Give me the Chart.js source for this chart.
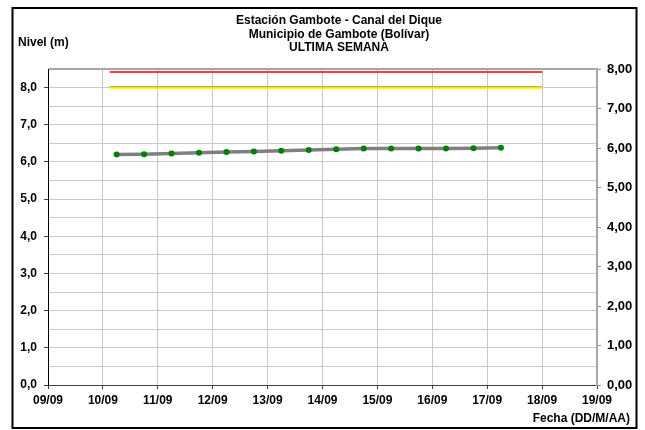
<!DOCTYPE html>
<html>
<head>
<meta charset="utf-8">
<script src="https://cdn.jsdelivr.net/npm/chart.js@4/dist/chart.umd.min.js"></script>
<style>
  html, body { margin: 0; padding: 0; background: #ffffff; }
  #wrap { width: 645px; height: 430px; }
</style>
</head>
<body>
<div id="wrap"><canvas id="c" width="645" height="430"></canvas></div>
<script>
// ---- Data ----
const titleLines = ['Estación Gambote - Canal del Dique', 'Municipio de Gambote (Bolívar)', 'ULTIMA SEMANA'];
const yTitle = 'Nivel (m)';
const xTitle = 'Fecha (DD/M/AA)';
const xTickLabels = ['09/09', '10/09', '11/09', '12/09', '13/09', '14/09', '15/09', '16/09', '17/09', '18/09', '19/09'];
const fechas = ['10/09 06:00', '10/09 18:00', '11/09 06:00', '11/09 18:00', '12/09 06:00', '12/09 18:00',
                '13/09 06:00', '13/09 18:00', '14/09 06:00', '14/09 18:00', '15/09 06:00', '15/09 18:00',
                '16/09 06:00', '16/09 18:00', '17/09 06:00'];
const niveles = [6.20, 6.21, 6.23, 6.25, 6.27, 6.28, 6.30, 6.32, 6.34, 6.36, 6.36, 6.36, 6.36, 6.37, 6.38];
const umbralFechas = ['10/09 03:00', '18/09 00:00'];
const alertaRoja = [8.42, 8.42];
const alertaAmarilla = [7.98, 7.98];
const alertaNaranja = [8.015, 8.015];

// ---- helpers ----
function dayValue(s) {
  const [d, t] = s.split(' ');
  const day = parseInt(d.split('/')[0], 10);
  const [hh, mm] = (t || '00:00').split(':').map(Number);
  return day + (hh + mm / 60) / 24;
}
const pts = (xs, ys) => xs.map((x, i) => ({ x: dayValue(x), y: ys[i] }));
const xMin = parseInt(xTickLabels[0], 10);
const xMax = parseInt(xTickLabels[xTickLabels.length - 1], 10);
const FONT = "'Liberation Sans', Arial, sans-serif";

const decorPlugin = {
  id: 'decor',
  afterDraw(chart) {
    const ctx = chart.ctx;
    ctx.save();
    // outer frame
    ctx.strokeStyle = '#000000';
    ctx.lineWidth = 2;
    ctx.strokeRect(12.5, 8, 624, 420);
    ctx.fillStyle = '#000000';
    ctx.font = 'bold 12px ' + FONT;
    ctx.textBaseline = 'middle';
    ctx.textAlign = 'center';
    const ys = [21, 34.5, 48];
    titleLines.forEach((t, i) => ctx.fillText(t, 339, ys[i]));
    ctx.textAlign = 'left';
    ctx.fillText(yTitle, 18, 43);
    ctx.textAlign = 'right';
    ctx.fillText(xTitle, 630, 419);
    ctx.restore();
  }
};

const isInt = v => Math.abs(v - Math.round(v)) < 1e-6;

new Chart(document.getElementById('c'), {
  type: 'scatter',
  data: {
    datasets: [
      {
        label: 'Alerta roja',
        data: pts(umbralFechas, alertaRoja),
        showLine: true, borderColor: '#ff3b3b', borderWidth: 2, pointRadius: 0, yAxisID: 'y'
      },
      {
        label: 'Alerta amarilla',
        data: pts(umbralFechas, alertaAmarilla),
        showLine: true, borderColor: '#ffff00', borderWidth: 2, pointRadius: 0, yAxisID: 'y'
      },
      {
        label: 'Alerta naranja',
        data: pts(umbralFechas, alertaNaranja),
        showLine: true, borderColor: '#b8893a', borderWidth: 1.5, pointRadius: 0, yAxisID: 'y'
      },
      {
        label: 'Nivel',
        data: pts(fechas, niveles),
        showLine: true, borderColor: '#7f7f7f', borderWidth: 3.5,
        pointRadius: 3, pointBackgroundColor: '#008000', pointBorderColor: '#008000', pointBorderWidth: 0,
        yAxisID: 'y'
      }
    ]
  },
  options: {
    responsive: false,
    animation: false,
    events: [],
    layout: { padding: { top: 69, left: 0, right: 0, bottom: 0 } },
    plugins: { legend: { display: false }, title: { display: false }, tooltip: { enabled: false } },
    scales: {
      x: {
        type: 'linear', position: 'bottom', min: xMin, max: xMax,
        afterFit(s) { s.height = 45; },
        ticks: {
          stepSize: 1, autoSkip: false, maxRotation: 0, padding: 4, color: '#000000',
          font: { family: FONT, size: 12, weight: 'bold' },
          callback: (v) => { const i = Math.round(v - xMin); return xTickLabels[i] !== undefined ? xTickLabels[i] : ''; }
        },
        grid: { color: '#c8c8c8', lineWidth: 1, tickLength: 4, tickColor: '#404040' },
        border: { color: '#404040', width: 1 }
      },
      y: {
        type: 'linear', position: 'left', min: 0, max: 8.5,
        afterFit(s) { s.width = 48; },
        ticks: {
          stepSize: 0.5, autoSkip: false, padding: 7, color: '#000000',
          font: { family: FONT, size: 12, weight: 'bold' },
          callback: (v) => isInt(v) ? v.toFixed(1).replace('.', ',') : ''
        },
        grid: {
          color: (c) => (c.tick && c.tick.value >= 8.5) ? '#a6a6a6' : '#c8c8c8',
          lineWidth: (c) => (c.tick && c.tick.value >= 8.5) ? 2 : 1,
          tickLength: 4,
          tickColor: (c) => (c.tick && isInt(c.tick.value)) ? '#404040' : 'rgba(0,0,0,0)'
        },
        border: { color: '#000000', width: 1 }
      },
      y2: {
        type: 'linear', position: 'right', min: 0, max: 8,
        afterFit(s) { s.width = 48; },
        ticks: {
          stepSize: 1, padding: 6, color: '#000000',
          font: { family: FONT, size: 13, weight: 'bold' },
          callback: (v) => v.toFixed(2).replace('.', ',')
        },
        grid: { drawOnChartArea: false, tickLength: 4, tickColor: '#909090' },
        border: { color: '#a6a6a6', width: 2 }
      }
    }
  },
  plugins: [decorPlugin]
});
</script>
</body>
</html>
